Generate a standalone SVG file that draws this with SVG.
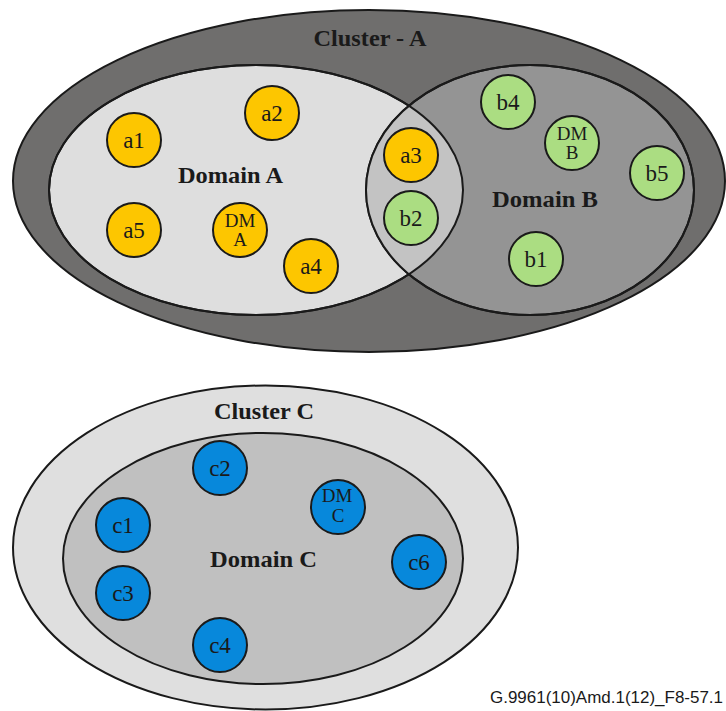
<svg xmlns="http://www.w3.org/2000/svg" width="726" height="711" viewBox="0 0 726 711">
<style>
.e{stroke:#1a1a1a;stroke-width:2}
.n{stroke:#1a1a1a;stroke-width:2}
.o{fill:#fdc600}
.g{fill:#abdd82}
.b{fill:#0788db}
.t{font-family:"Liberation Serif","Times New Roman",serif;font-size:23px;fill:#1a1a1a;text-anchor:middle}
.d{font-family:"Liberation Serif","Times New Roman",serif;font-size:19px;fill:#1a1a1a;text-anchor:middle}
.L{font-family:"Liberation Serif","Times New Roman",serif;font-size:23px;font-weight:bold;fill:#1a1a1a;text-anchor:middle}
</style>
<defs>
<clipPath id="clipB"><ellipse cx="530" cy="190" rx="164" ry="125"/></clipPath>
</defs>
<rect width="726" height="711" fill="#ffffff"/>
<g id="clusterA">
<ellipse class="e" cx="369" cy="181" rx="356" ry="171" fill="#6f6e6d"/>
<text class="L" x="370" y="46" textLength="113" lengthAdjust="spacingAndGlyphs">Cluster - A</text>
</g>
<g id="domainA">
<ellipse class="e" cx="256" cy="190" rx="207" ry="125" fill="#dedede"/>
</g>
<g id="domainB">
<ellipse class="e" cx="530" cy="190" rx="164" ry="125" fill="#949494"/>
<ellipse cx="256" cy="190" rx="207" ry="125" fill="#c3c3c3" clip-path="url(#clipB)"/>
<ellipse class="e" cx="256" cy="190" rx="207" ry="125" fill="none"/>
<ellipse class="e" cx="530" cy="190" rx="164" ry="125" fill="none"/>
<text class="L" x="230.5" y="183" textLength="105" lengthAdjust="spacingAndGlyphs">Domain A</text>
<text class="L" x="545" y="207" textLength="106" lengthAdjust="spacingAndGlyphs">Domain B</text>
</g>
<g id="a1"><circle class="n o" cx="134" cy="140" r="27"/><text class="t" x="134" y="148">a1</text></g>
<g id="a2"><circle class="n o" cx="272" cy="113" r="27"/><text class="t" x="272" y="121">a2</text></g>
<g id="a3"><circle class="n o" cx="411" cy="155" r="27"/><text class="t" x="411" y="163">a3</text></g>
<g id="a5"><circle class="n o" cx="134" cy="230" r="27"/><text class="t" x="134" y="238">a5</text></g>
<g id="dmA"><circle class="n o" cx="240" cy="230" r="27"/><text class="d" x="240" y="227">DM</text><text class="d" x="240" y="246">A</text></g>
<g id="a4"><circle class="n o" cx="311" cy="266" r="27"/><text class="t" x="311" y="274">a4</text></g>
<g id="b2"><circle class="n g" cx="411" cy="218" r="27"/><text class="t" x="411" y="226">b2</text></g>
<g id="b4"><circle class="n g" cx="508" cy="102" r="27"/><text class="t" x="508" y="110">b4</text></g>
<g id="dmB"><circle class="n g" cx="572" cy="143" r="27"/><text class="d" x="572" y="140">DM</text><text class="d" x="572" y="159">B</text></g>
<g id="b5"><circle class="n g" cx="657" cy="173" r="27"/><text class="t" x="657" y="181">b5</text></g>
<g id="b1"><circle class="n g" cx="536" cy="259" r="27"/><text class="t" x="536" y="267">b1</text></g>
<g id="clusterC">
<ellipse class="e" cx="265.5" cy="547.5" rx="252.5" ry="162" fill="#dfdfdf"/>
<text class="L" x="264" y="419" textLength="100" lengthAdjust="spacingAndGlyphs">Cluster C</text>
</g>
<g id="domainC">
<ellipse class="e" cx="263" cy="558.5" rx="200" ry="125.5" fill="#c0c0c0"/>
<text class="L" x="263.5" y="567" textLength="107" lengthAdjust="spacingAndGlyphs">Domain C</text>
</g>
<g id="c2"><circle class="n b" cx="220" cy="468" r="27"/><text class="t" x="220" y="476">c2</text></g>
<g id="dmC"><circle class="n b" cx="338" cy="507" r="27"/><text class="d" x="337" y="502" font-size="18">DM</text><text class="d" x="338" y="522" font-size="18">C</text></g>
<g id="c1"><circle class="n b" cx="123" cy="525" r="27"/><text class="t" x="123" y="533">c1</text></g>
<g id="c6"><circle class="n b" cx="419" cy="562" r="27"/><text class="t" x="419" y="570">c6</text></g>
<g id="c3"><circle class="n b" cx="123" cy="593" r="27"/><text class="t" x="123" y="601">c3</text></g>
<g id="c4"><circle class="n b" cx="220" cy="645" r="27"/><text class="t" x="220" y="653">c4</text></g>
<g id="connectors"></g>
<text x="723" y="703" font-family="'Liberation Sans',Arial,sans-serif" font-size="16" fill="#1a1a1a" text-anchor="end" textLength="233" lengthAdjust="spacingAndGlyphs">G.9961(10)Amd.1(12)_F8-57.1</text>
</svg>
